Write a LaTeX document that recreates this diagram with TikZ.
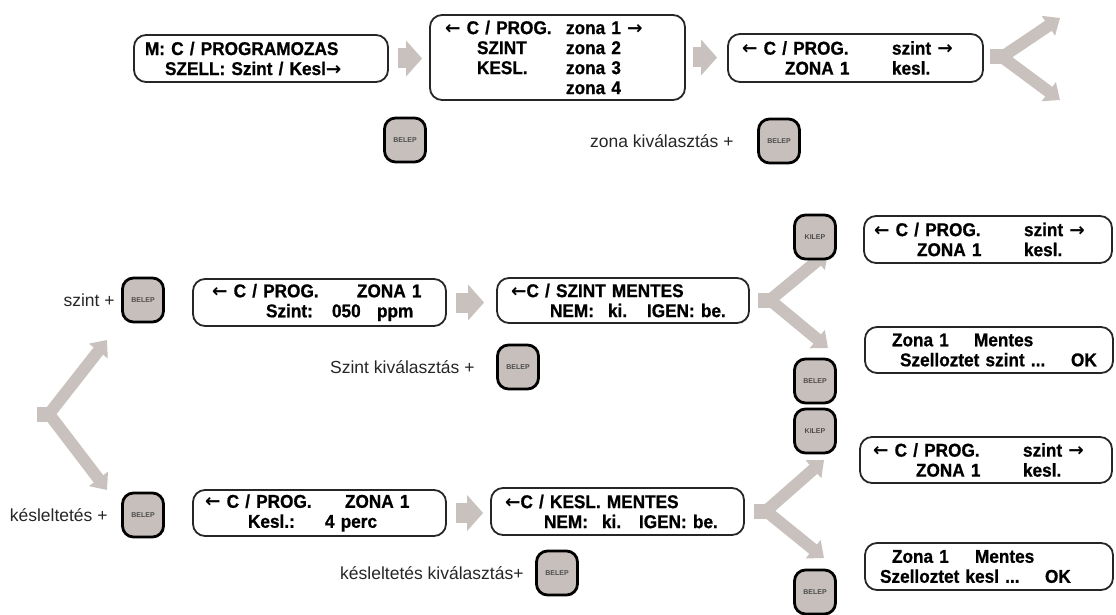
\documentclass[tikz,border=0pt]{standalone}
\usepackage{fontspec}
\setmainfont{Liberation Sans}
\newfontfamily\lcdfont[FakeStretch=0.93,FakeBold=0.8]{Liberation Sans}
\newfontfamily\arrowfont{DejaVu Sans}
\usepackage{tikz}
\usetikzlibrary{positioning}
\usetikzlibrary{arrows.meta}
\definecolor{flowgray}{RGB}{201,193,189}
\definecolor{keygray}{RGB}{199,191,188}
\newcommand{\lcdleft}{{\arrowfont ←}}
\newcommand{\lcdright}{{\arrowfont →}}
\tikzset{
    display/.style={draw=black!85, line width=1.8pt, rounded corners=12pt, inner xsep=0pt, inner ysep=0pt, align=left, font=\lcdfont\fontsize{18.5}{20}\selectfont\bfseries},
    key/.style={draw=black, line width=2.8pt, rounded corners=11pt, fill=keygray, minimum width=41pt, minimum height=44pt, inner sep=0pt, font=\fontsize{7}{7}\selectfont\bfseries, text=black!70},
    hint/.style={font=\fontsize{17.5}{18}\selectfont, text=black!85},
    next/.style={flowgray, line width=20pt, -{Triangle[length=16pt,width=35pt]}},
    forkstub/.style={flowgray, line width=15pt},
    fork/.style={flowgray, line width=12pt, line join=round, {Triangle[length=14pt,width=23pt]}-{Triangle[length=14pt,width=23pt]}},
}
\newcommand{\forkat}[3]{%
    \draw[forkstub] (#1) -- ++(14,0) coordinate (fj);
    \draw[fork] (#2) -- ([xshift=-2pt]fj) -- (#3);
}

\begin{document}
\begin{tikzpicture}[x=1pt, y=-1pt]
    \useasboundingbox (0,0) rectangle (1116,615);
    % first row
    \node[display, text width=254pt, minimum height=47pt] (prog) at (261,58.5)
        {\hspace*{11pt}M: C / PROGRAMOZAS\\\hspace*{31pt}SZELL: Szint / Kesl\lcdright};
    \node[display, text width=255pt, minimum height=85pt] (zones) at (557.5,57.5)
        {\hspace*{15pt}\makebox[121pt][l]{\lcdleft\ C / PROG.}zona 1 \lcdright\\
         \hspace*{47pt}\makebox[89pt][l]{SZINT}zona 2\\
         \hspace*{47pt}\makebox[89pt][l]{KESL.}zona 3\\
         \hspace*{136pt}zona 4};
    \node[display, text width=255pt, minimum height=48pt] (selecta) at (855.5,58)
        {\hspace*{14pt}\makebox[150pt][l]{\lcdleft\ C / PROG.}szint \lcdright\\\hspace*{57pt}\makebox[107pt][l]{ZONA 1}kesl.};
    \draw[next] ([xshift=9pt]prog.east) -- ([xshift=-7pt]zones.west |- prog.east);
    \draw[next] ([xshift=7pt]zones.east) -- ([xshift=-10pt]selecta.west |- zones.east);
    \forkat{990,57}{1060,18}{1060,100}
    \node[key] (belepa) at (405,140) {BELEP};
    \node[key] (belepb) at (779,141) {BELEP};
    \node[hint, left=20pt of belepb] {zona kiválasztás +};

    % szint
    \node[key] (belepc) at (143,300) {BELEP};
    \node[hint, left=3pt of belepc] {szint +};
    \node[display, text width=253pt, minimum height=47pt] (szintval) at (319.5,302.5)
        {\hspace*{19pt}\makebox[145pt][l]{\lcdleft\ C / PROG.}ZONA 1\\\hspace*{73pt}\makebox[66pt][l]{Szint:}\makebox[45pt][l]{050}ppm};
    \node[display, text width=252pt, minimum height=45pt] (szintsave) at (623,300.5)
        {\hspace*{14pt}\lcdleft C / SZINT MENTES\\\hspace*{53pt}\makebox[58pt][l]{NEM:}\makebox[39pt][l]{ki.}IGEN: be.};
    \draw[next] ([xshift=9pt]szintval.east) -- ([xshift=-12pt]szintsave.west |- szintval.east);
    \node[key] (belepd) at (518,367) {BELEP};
    \node[hint, left=18pt of belepd] {Szint kiválasztás +};
    \forkat{758,300}{828,252}{828,348}
    \node[key] (kilepa) at (815,237) {KILEP};
    \node[display, text width=248pt, minimum height=47pt] (selectb) at (988,239.5)
        {\hspace*{10pt}\makebox[150pt][l]{\lcdleft\ C / PROG.}szint \lcdright\\\hspace*{53pt}\makebox[107pt][l]{ZONA 1}kesl.};
    \node[display, text width=248pt, minimum height=46pt] (szintok) at (989,350)
        {\hspace*{27pt}\makebox[82pt][l]{Zona 1}Mentes\\\hspace*{35pt}\makebox[171pt][l]{Szelloztet szint ...}OK};
    \node[key] (belepe) at (815,381) {BELEP};

    % kesleltetes
    \forkat{37,414}{107,340}{107,490}
    \node[key] (kilepb) at (815,431) {KILEP};
    \node[display, text width=252pt, minimum height=46pt] (selectc) at (986,460)
        {\hspace*{13pt}\makebox[150pt][l]{\lcdleft\ C / PROG.}szint \lcdright\\\hspace*{56pt}\makebox[107pt][l]{ZONA 1}kesl.};
    \node[key] (belepf) at (143,515) {BELEP};
    \node[hint, left=10pt of belepf] {késleltetés +};
    \node[display, text width=253pt, minimum height=46pt] (keslval) at (319.5,513)
        {\hspace*{12pt}\makebox[140pt][l]{\lcdleft\ C / PROG.}ZONA 1\\\hspace*{55pt}\makebox[77pt][l]{Kesl.:}4 perc};
    \node[display, text width=253pt, minimum height=47pt] (keslsave) at (617.5,511.5)
        {\hspace*{14pt}\lcdleft C / KESL. MENTES\\\hspace*{53pt}\makebox[58pt][l]{NEM:}\makebox[37pt][l]{ki.}IGEN: be.};
    \draw[next] ([xshift=9pt]keslval.east) -- ([xshift=-7pt]keslsave.west |- keslval.east);
    \forkat{754,511}{824,460}{824,558}
    \node[key] (belepg) at (557,573) {BELEP};
    \node[hint, left=8pt of belepg] {késleltetés kiválasztás+};
    \node[display, text width=248pt, minimum height=47pt] (keslok) at (989,566.5)
        {\hspace*{27pt}\makebox[83pt][l]{Zona 1}Mentes\\\hspace*{15pt}\makebox[165pt][l]{Szelloztet kesl ...}OK};
    \node[key] (beleph) at (815,592) {BELEP};
\end{tikzpicture}
\end{document}
